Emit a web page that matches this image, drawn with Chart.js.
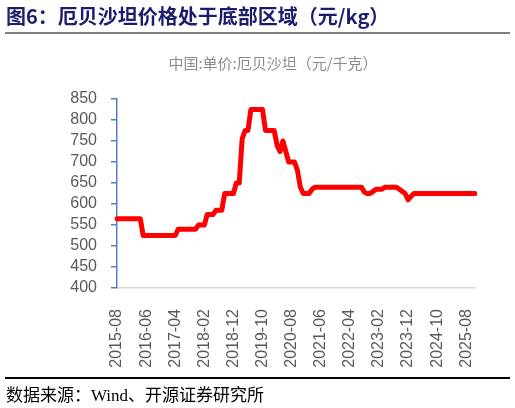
<!DOCTYPE html>
<html>
<head>
<meta charset="utf-8">
<script src="https://cdn.jsdelivr.net/npm/chart.js@4"></script>
<style>
  body { margin: 0; background: #fff; }
  #wrap { position: relative; width: 515px; height: 408px; overflow: hidden; }
  #chart { position: absolute; left: 0; top: 0; }
  .title { position: absolute; left: 6px; top: 4px; font: bold 20px "Noto Sans CJK SC", sans-serif; color: #1c1d6e; line-height: 24px; white-space: nowrap; }
  .rule { position: absolute; left: 5px; width: 505px; }
  .sub { position: absolute; left: 0; width: 546px; top: 53px; text-align: center; font: 15px "Noto Sans CJK SC", sans-serif; color: #8c8c8c; line-height: 20px; }
  .source { position: absolute; left: 6px; top: 385px; font: 17px "Liberation Serif", "Noto Sans CJK SC", serif; color: #000; line-height: 22px; white-space: nowrap; }
</style>
</head>
<body>
<div id="wrap">
  <canvas id="chart" width="515" height="408"></canvas>
  <div class="title">图6：厄贝沙坦价格处于底部区域（元/kg）</div>
  <div class="rule" style="top:32px;height:2px;background:#7f7f7f"></div>
  <div class="sub">中国:单价:厄贝沙坦（元/千克）</div>
  <div class="rule" style="top:377px;height:1.5px;background:#000"></div>
  <div class="source">数据来源：Wind、开源证券研究所</div>
</div>
<script>
// monthly categories, 2015-08 .. 2025-11
const startYear = 2015, startMonth = 8, monthCount = 124;
const months = [];
for (let i = 0; i < monthCount; i++) {
    const m = startMonth - 1 + i;
    const y = startYear + Math.floor(m / 12);
    months.push(y + '-' + String(m % 12 + 1).padStart(2, '0'));
}

// x axis labels shown every 10 months
const tickLabels = ['2015-08', '2016-06', '2017-04', '2018-02', '2018-12', '2019-10', '2020-08',
    '2021-06', '2022-04', '2023-02', '2023-12', '2024-10', '2025-08'];

// price, yuan/kg
const prices = [
    565, 565, 565, 565, 565, 565, 565, 565, 565,
    525, 525, 525, 525, 525, 525, 525, 525, 525, 525, 525, 525,
    540, 540, 540, 540, 540, 540, 540,
    550, 550, 550,
    575, 575, 575,
    585, 585, 585,
    625, 625, 625, 625,
    650, 650,
    755,
    775, 775,
    825, 825, 825, 825, 825,
    775, 775, 775, 775,
    740, 725, 750, 725,
    700, 700, 700,
    680, 640,
    625, 625, 625,
    635,
    640, 640, 640, 640, 640, 640, 640, 640, 640, 640, 640, 640, 640, 640, 640, 640, 640,
    628, 625, 625, 630,
    635, 635, 635,
    640, 640, 640, 640, 640,
    635, 630, 625, 610, 618,
    625, 625, 625, 625, 625, 625, 625, 625, 625, 625, 625,
    625, 625, 625, 625, 625, 625, 625, 625, 625, 625, 625
];

const yTicks = { min: 400, max: 850, step: 50 };

const axisBlue = '#4F81BD';
const labelGrey = '#595959';

const ctx = document.getElementById('chart').getContext('2d');
const priceChart = new Chart(ctx, {
    type: 'line',
    data: {
        labels: months,
        datasets: [{
            label: '厄贝沙坦',
            data: prices,
            borderColor: '#FF0000',
            borderWidth: 5,
            pointRadius: 0,
            tension: 0,
            borderJoinStyle: 'round',
            borderCapStyle: 'round',
            fill: false
        }]
    },
    options: {
        responsive: false,
        animation: false,
        layout: { padding: { left: 0, top: 99, right: 40, bottom: 0 } },
        plugins: { legend: { display: false }, tooltip: { enabled: false } },
        scales: {
            x: {
                offset: false,
                grid: { display: false },
                border: { display: true, color: '#d9d9d9', width: 1.5 },
                ticks: {
                    autoSkip: false,
                    maxRotation: 90,
                    minRotation: 90,
                    padding: 13,
                    color: labelGrey,
                    font: { family: 'Liberation Sans', size: 16 },
                    callback: function (value, index) {
                        return tickLabels.includes(months[index]) ? months[index] : null;
                    }
                },
                afterFit: function (scale) { scale.height = 120; }
            },
            y: {
                min: yTicks.min,
                max: yTicks.max,
                grid: { drawOnChartArea: false, drawTicks: true, tickLength: 6, color: axisBlue, lineWidth: 1.5 },
                border: { display: true, color: axisBlue, width: 1.5 },
                ticks: {
                    stepSize: yTicks.step,
                    autoSkip: false,
                    padding: 14,
                    color: labelGrey,
                    font: { family: 'Liberation Sans', size: 16 }
                },
                afterFit: function (scale) { scale.width = 117; }
            }
        }
    }
});
</script>
</body>
</html>
